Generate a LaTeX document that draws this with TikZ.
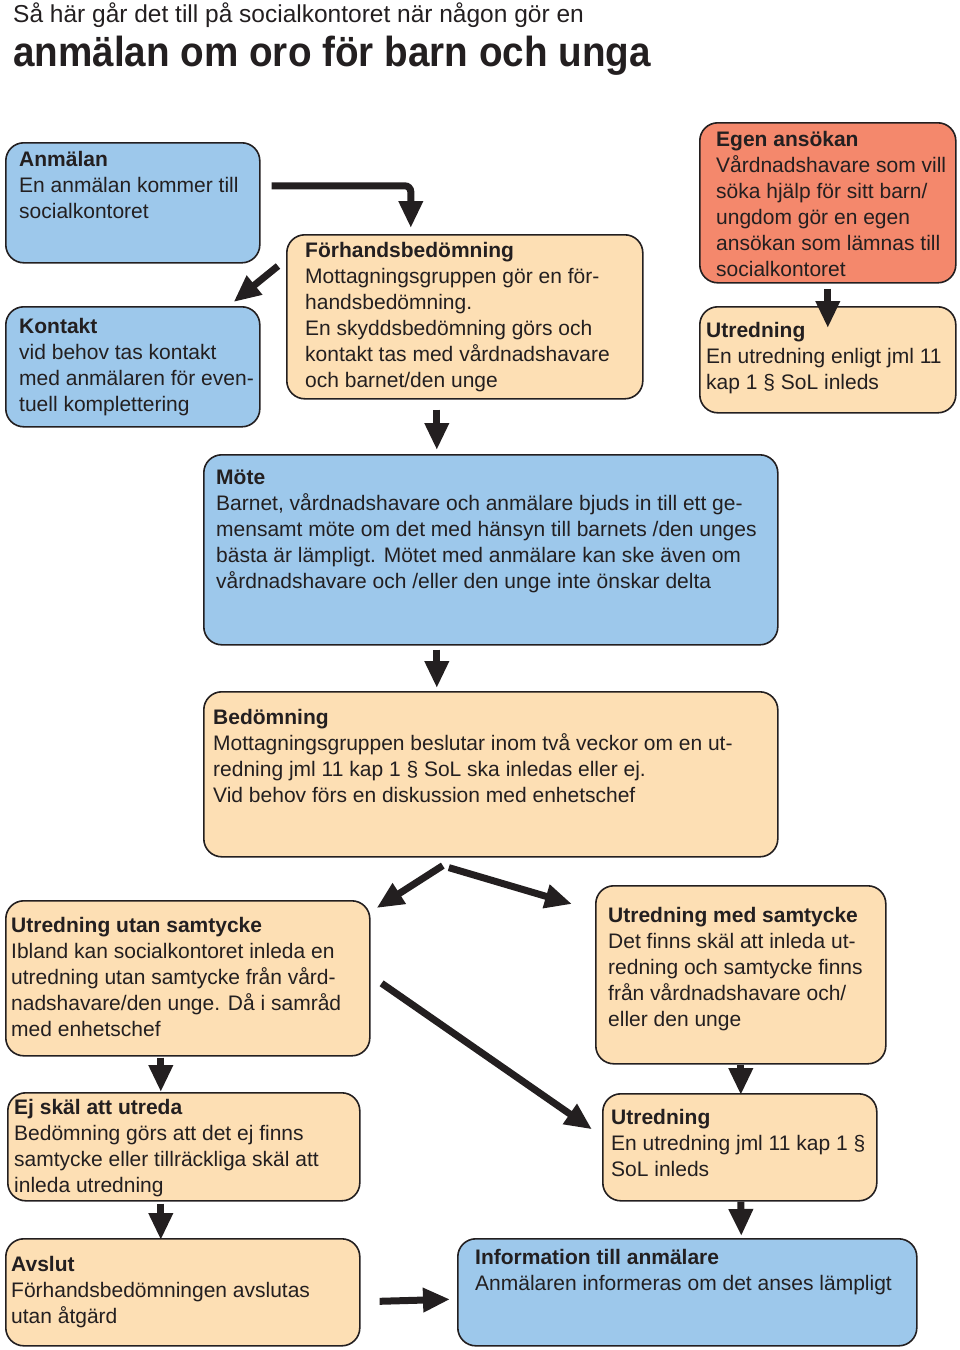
\documentclass[tikz,border=0pt]{standalone}
\usepackage{fontspec}
\setmainfont{Liberation Sans}
\newfontfamily\condfont[FakeStretch=0.92]{Liberation Sans}
\usetikzlibrary{calc,arrows.meta}
\definecolor{boxblue}{HTML}{9DC8EB}
\definecolor{boxpeach}{HTML}{FDDFB4}
\definecolor{boxred}{HTML}{F4886C}
\definecolor{ink}{HTML}{231F20}

\begin{document}
\begin{tikzpicture}[x=1pt,y=-1pt,
    box/.style={draw=ink,line width=1.6pt,rounded corners=18pt,anchor=north west,inner sep=0pt},
    txt/.style={anchor=north west,align=left,inner sep=0pt,text=ink,font=\fontsize{21}{26}\selectfont},
    arr/.style={ink,line width=7pt,-{Triangle[width=23pt,length=27pt]}}]
      \useasboundingbox (0,0) rectangle (960,1350);
      % heading
      \node[anchor=base west,inner sep=0pt,text=ink,font=\fontsize{24.5}{28}\selectfont] (head) at (13,22)
        {Så här går det till på socialkontoret när någon gör en};
      \node[anchor=base west,inner sep=0pt,text=ink,font=\condfont\bfseries\fontsize{42}{46}\selectfont] (headb) at (13,66)
        {anmälan om oro för barn och unga};
      % boxes
      \node[box,fill=boxblue,minimum width=254,minimum height=120] (anm) at (5,142) {};
      \node[box,fill=boxblue,minimum width=254,minimum height=120] (kont) at (5,306) {};
      \node[box,fill=boxpeach,minimum width=356,minimum height=164] (fb) at (286,234) {};
      \node[box,fill=boxred,minimum width=256,minimum height=160] (egen) at (699,122) {};
      \node[box,fill=boxpeach,minimum width=256,minimum height=106] (utra) at (699,306) {};
      \node[box,fill=boxblue,minimum width=574,minimum height=190] (mote) at (203,454) {};
      \node[box,fill=boxpeach,minimum width=574,minimum height=165] (bed) at (203,691) {};
      \node[box,fill=boxpeach,minimum width=364,minimum height=155] (utan) at (5,900) {};
      \node[box,fill=boxpeach,minimum width=290,minimum height=178] (med) at (595,885) {};
      \node[box,fill=boxpeach,minimum width=352,minimum height=108] (ej) at (7,1092) {};
      \node[box,fill=boxpeach,minimum width=274,minimum height=107] (utrb) at (602,1093) {};
      \node[box,fill=boxpeach,minimum width=354,minimum height=107] (avs) at (5,1238) {};
      \node[box,fill=boxblue,minimum width=459,minimum height=107] (info) at (457,1238) {};
      % texts
      \node[txt] (anmt) at ($(anm.north west)+(14,9)$)
        {\textbf{Anmälan}\\En anmälan kommer till\\socialkontoret};
      \node[txt] (kontt) at ($(kont.north west)+(14,12)$)
        {\textbf{Kontakt}\\vid behov tas kontakt\\med anmälaren för even-\\tuell komplettering};
      \node[txt] (fbt) at ($(fb.north west)+(19,8)$)
        {\textbf{Förhandsbedömning}\\Mottagningsgruppen gör en för-\\handsbedömning.\\En skyddsbedömning görs och\\kontakt tas med vårdnadshavare\\och barnet/den unge};
      \node[txt] (egent) at ($(egen.north west)+(17,9)$)
        {\textbf{Egen ansökan}\\Vårdnadshavare som vill\\söka hjälp för sitt barn/\\ungdom gör en egen\\ansökan som lämnas till\\socialkontoret};
      \node[txt] (utrat) at ($(utra.north west)+(7,16)$)
        {\textbf{Utredning}\\En utredning enligt jml 11\\kap 1 § SoL inleds};
      \node[txt] (motet) at ($(mote.north west)+(13,16)$)
        {\textbf{Möte}\\Barnet, vårdnadshavare och anmälare bjuds in till ett ge-\\mensamt möte om det med hänsyn till barnets /den unges\\bästa är lämpligt. Mötet med anmälare kan ske även om\\vårdnadshavare och /eller den unge inte önskar delta};
      \node[txt] (bedt) at ($(bed.north west)+(10,18)$)
        {\textbf{Bedömning}\\Mottagningsgruppen beslutar inom två veckor om en ut-\\redning jml 11 kap 1 § SoL ska inledas eller ej.\\Vid behov förs en diskussion med enhetschef};
      \node[txt] (utant) at ($(utan.north west)+(6,17)$)
        {\textbf{Utredning utan samtycke}\\Ibland kan socialkontoret inleda en\\utredning utan samtycke från vård-\\nadshavare/den unge. Då i samråd\\med enhetschef};
      \node[txt] (medt) at ($(med.north west)+(13,22)$)
        {\textbf{Utredning med samtycke}\\Det finns skäl att inleda ut-\\redning och samtycke finns\\från vårdnadshavare och/\\eller den unge};
      \node[txt] (ejt) at ($(ej.north west)+(7,7)$)
        {\textbf{Ej skäl att utreda}\\Bedömning görs att det ej finns\\samtycke eller tillräckliga skäl att\\inleda utredning};
      \node[txt] (utrbt) at ($(utrb.north west)+(9,16)$)
        {\textbf{Utredning}\\En utredning jml 11 kap 1 §\\SoL inleds};
      \node[txt] (avst) at ($(avs.north west)+(6,18)$)
        {\textbf{Avslut}\\Förhandsbedömningen avslutas\\utan åtgärd};
      \node[txt] (infot) at ($(info.north west)+(18,11)$)
        {\textbf{Information till anmälare}\\Anmälaren informeras om det anses lämpligt};
      % arrows
      \draw[arr,rounded corners=6pt] ($(anm.east)+(11,-17)$) -| ($(fb.north)+(-54,-6)$);
      \draw[arr] ($(fb.north west)+(-8,32)$) -- ($(kont.north east)+(-27,-4)$);
      \draw[arr] ($(fb.south)+(-28,10)$) -- ($(mote.north)+(-54,-4)$);
      \draw[arr] ($(egen.south)+(0,5)$) -- ($(utra.north)+(0,22)$);
      \draw[arr] ($(mote.south)+(-54,4)$) -- ($(bed.north)+(-54,-3)$);
      \draw[arr] ($(bed.south)+(-48,8)$) -- ($(utan.north east)+(6,8)$);
      \draw[arr] ($(bed.south)+(-42,10)$) -- ($(med.north west)+(-23,19)$);
      \draw[arr] ($(utan.east)+(11,5)$) -- ($(utrb.west)+(-10,-18)$);
      \draw[arr] ($(utan.south)+(-27,1)$) -- ($(ej.north)+(-23,0)$);
      \draw[arr] ($(ej.south)+(-23,2)$) -- ($(avs.north)+(-22,2)$);
      \draw[arr] ($(med.south)+(0,0)$) -- ($(utrb.north)+(1,2)$);
      \draw[arr] ($(utrb.south)+(1,0)$) -- ($(info.north)+(54,-2)$);
      \draw[arr] ($(avs.east)+(19,9)$) -- ($(info.west)+(-7,7)$);
\end{tikzpicture}
\end{document}
